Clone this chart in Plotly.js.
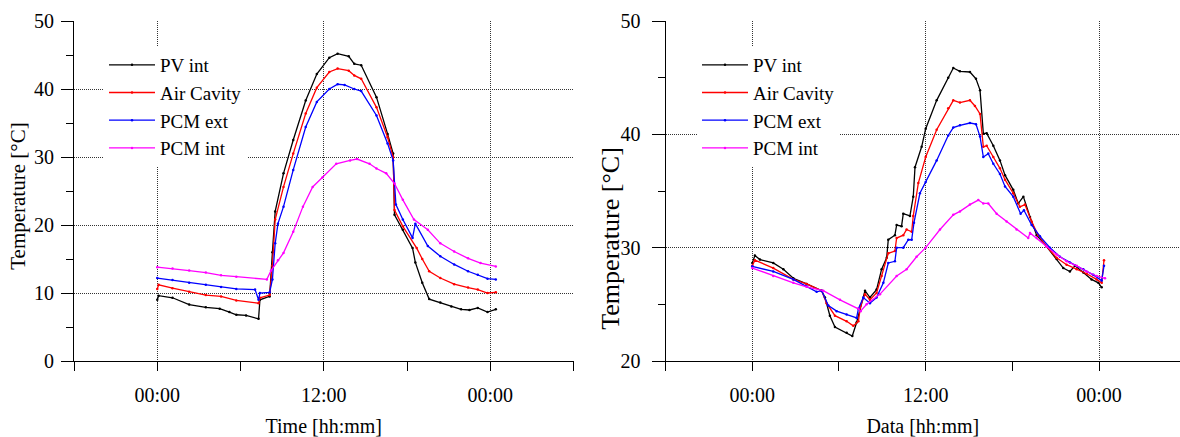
<!DOCTYPE html>
<html>
<head>
<meta charset="utf-8">
<script src="https://cdn.plot.ly/plotly-3.0.1.min.js"></script>
<style>html,body{margin:0;padding:0;background:#fff;}#chart{width:1180px;height:437px;}</style>
</head>
<body>
<div id="chart"></div>
<script>
// ---------- DATA (hours after 00:00, temperature in °C) ----------
const seriesNames = ["PV int", "Air Cavity", "PCM ext", "PCM int"];
const seriesColors = ["#000000", "#ff0000", "#0000ff", "#ff00ff"];

// Left chart (Time)
const leftPVintH  = [0,0.1,1.1,2.3,3.5,4.5,5.2,5.7,6.4,7.3,7.4,8.1,8.3,8.5,9.1,9.8,10.7,11.5,12.4,13.0,13.8,14.2,14.7,15.8,16.6,17.0,17.1,17.7,18.4,18.6,19.1,19.6,20.4,21.2,21.9,22.5,23.1,23.8,24.4];
const leftPVint   = [9.0,9.6,9.3,8.3,7.9,7.7,7.2,6.8,6.7,6.2,9.0,9.5,16.0,22.0,27.6,32.5,38.3,42.2,44.6,45.2,44.8,43.7,43.5,38.8,33.4,30.5,21.5,19.3,16.6,14.5,11.5,9.1,8.6,8.0,7.6,7.5,7.8,7.2,7.6];
const leftAirH    = [0,0.1,1.1,2.3,3.5,4.6,5.7,7.3,7.4,8.1,8.3,8.5,9.1,9.8,10.7,11.5,12.4,13.0,13.8,14.2,14.7,15.8,16.6,17.0,17.1,17.7,18.7,19.1,19.6,20.4,21.4,22.4,23.1,23.8,24.4];
const leftAir     = [10.6,11.2,10.7,10.2,9.7,9.5,8.9,8.5,9.3,9.7,14.0,20.8,25.6,30.5,36.4,40.2,42.5,43.0,42.7,42.0,41.5,37.3,32.9,30.0,22.2,19.8,16.6,15.0,13.2,12.2,11.3,10.8,10.5,10.0,10.1];
const leftPCMextH = [0,1.1,2.3,3.5,4.6,5.7,7.05,7.3,7.4,8.1,8.3,8.5,8.7,9.1,9.8,10.7,11.5,12.4,13.0,13.5,14.2,14.7,15.8,16.6,17.0,17.2,17.7,18.4,18.6,19.5,20.4,21.4,22.4,23.1,23.8,24.4];
const leftPCMext  = [12.2,11.9,11.5,11.2,10.9,10.6,10.5,9.0,10.0,10.1,12.0,17.3,20.2,22.7,28.1,34.4,38.1,40.0,40.7,40.6,40.0,39.7,36.1,32.0,29.5,23.0,20.8,18.1,20.2,16.9,15.4,14.2,13.2,12.7,12.1,12.0];
const leftPCMintH = [0,1.1,2.3,3.5,4.6,5.7,7.9,8.2,8.7,9.1,9.8,10.5,11.2,11.9,12.9,13.9,14.4,15.3,15.8,16.5,17.1,17.7,18.5,19.5,20.4,21.4,22.4,23.3,24.4];
const leftPCMint  = [13.8,13.6,13.3,13.0,12.6,12.4,12.0,13.3,14.8,15.9,19.0,22.7,25.6,27.0,29.0,29.5,29.7,29.0,28.3,27.6,26.1,23.7,20.8,19.3,17.3,16.1,15.1,14.4,13.9];

// Right chart (Data)
const rightPVintH  = [0,0.18,0.53,1.45,2.15,2.84,3.76,4.8,5.03,5.37,5.72,6.53,6.92,7.22,7.45,7.8,8.14,8.6,8.95,9.3,9.41,9.87,9.99,10.33,10.45,10.91,11.14,11.26,11.72,12.0,12.76,13.56,13.91,14.37,15.06,15.48,15.76,15.99,16.22,16.68,17.14,17.49,18.06,18.41,18.76,19.22,19.68,20.37,21.06,21.52,21.98,22.33,22.91,23.48,23.95,24.18];
const rightPVint   = [28.65,29.3,28.95,28.65,28.1,27.3,26.8,26.2,25.6,24.0,23.0,22.5,22.2,23.4,24.6,26.2,25.6,26.3,28.1,29.1,30.7,31.1,32.0,31.9,33.0,32.8,34.5,37.1,38.9,40.5,43.0,45.0,45.85,45.56,45.5,44.9,43.9,40.06,40.1,39.0,37.7,36.4,35.1,33.9,34.5,32.7,31.1,30.1,29.0,28.2,27.9,28.4,27.8,27.2,26.9,26.5];
const rightAirH    = [0,0.18,1.45,2.84,3.76,4.8,5.14,5.72,6.53,6.99,7.34,7.5,7.8,8.14,8.6,8.95,9.41,9.87,9.99,10.45,10.68,11.03,11.14,11.49,12.0,12.76,13.56,13.91,14.37,15.06,15.41,15.76,15.99,16.22,16.68,17.14,17.49,18.06,18.52,18.87,19.33,19.79,20.37,21.06,21.75,22.45,23.14,23.83,24.18,24.34];
const rightAir     = [28.4,28.9,28.2,27.2,26.8,26.2,25.1,24.0,23.5,23.1,23.5,24.9,25.9,25.4,26.0,27.5,29.5,29.7,30.85,31.1,31.6,31.4,32.8,35.7,38.0,40.4,42.3,43.0,42.8,43.0,42.5,41.8,38.9,39.0,38.0,37.0,36.0,34.8,33.6,33.8,32.3,31.1,30.1,29.1,28.5,28.1,27.7,27.2,26.9,28.9];
const rightPCMextH = [0,1.45,2.84,3.76,4.45,4.8,5.26,5.84,6.53,7.22,7.34,7.68,8.14,8.6,9.07,9.41,9.87,9.99,10.45,10.8,11.03,11.19,11.6,12.0,12.76,13.56,13.91,14.37,15.06,15.48,15.76,15.99,16.33,16.68,17.14,17.49,18.06,18.57,18.8,19.33,19.91,20.6,21.29,21.98,22.91,23.6,24.18,24.34];
const rightPCMext  = [28.35,27.9,27.2,26.6,26.1,26.2,24.9,24.4,24.1,23.8,24.6,25.6,25.1,25.6,26.9,28.65,28.8,30.0,30.0,30.7,30.7,32.2,34.8,35.8,37.7,39.9,40.6,40.8,41.0,40.9,39.8,38.0,38.3,37.4,36.5,35.4,34.5,33.0,33.3,32.0,31.0,30.0,29.2,28.7,28.1,27.6,27.1,28.4];
const rightPCMintH = [0,1.45,2.84,3.76,4.91,6.07,7.34,7.5,7.91,8.84,9.99,10.68,11.37,12.0,12.99,13.91,14.37,15.06,15.64,15.99,16.33,16.91,17.6,18.29,19.1,19.22,19.68,20.37,21.06,21.75,22.45,23.14,23.83,24.41];
const rightPCMint  = [28.2,27.5,26.9,26.55,26.2,25.4,24.6,24.4,25.0,25.9,27.5,28.1,29.2,30.0,31.6,32.9,33.2,33.8,34.2,33.9,33.9,33.0,32.3,31.6,30.85,31.3,30.85,30.1,29.4,28.8,28.4,27.9,27.5,27.3];

// ---------- BUILD ----------
const HOUR = 3600e3;
const BASE = Date.UTC(2013, 6, 1);
const toT = hs => hs.map(h => BASE + h * HOUR);
const FONT = "'Liberation Serif', 'Times New Roman', serif";

const leftSets = [[leftPVintH, leftPVint],[leftAirH, leftAir],[leftPCMextH, leftPCMext],[leftPCMintH, leftPCMint]];
const rightSets = [[rightPVintH, rightPVint],[rightAirH, rightAir],[rightPCMextH, rightPCMext],[rightPCMintH, rightPCMint]];

const traces = [];
leftSets.forEach((s, i) => traces.push({
  x: toT(s[0]), y: s[1], name: seriesNames[i], xaxis: 'x', yaxis: 'y', legend: 'legend',
  mode: 'lines+markers', line: {color: seriesColors[i], width: 1.3}, marker: {color: seriesColors[i], size: 2.5}
}));
rightSets.forEach((s, i) => traces.push({
  x: toT(s[0]), y: s[1], name: seriesNames[i], xaxis: 'x2', yaxis: 'y2', legend: 'legend2',
  mode: 'lines+markers', line: {color: seriesColors[i], width: 1.3}, marker: {color: seriesColors[i], size: 2.5}
}));

const W = 1180, H = 437, T = 21, B = 75.6;
const plotH = H - T - B;
const py = p => (H - B - p) / plotH;   // pixel y -> paper y
const px = p => p / W;

const gridStyle = {showgrid: true, gridcolor: '#333', griddash: '1px,1px', gridwidth: 1};
function xMain(domain, rangeH, anchor) {
  return Object.assign({
    type: 'date', domain: domain, anchor: anchor, range: [BASE + rangeH[0]*HOUR, BASE + rangeH[1]*HOUR],
    tickmode: 'linear', tick0: BASE, dtick: 12*HOUR, tickformat: '%H:%M',
    ticks: 'outside', ticklen: 9, tickcolor: '#000', tickwidth: 1, ticklabelstandoff: 7,
    minor: {tick0: BASE, dtick: 6*HOUR, ticks: 'outside', ticklen: 9, tickcolor: '#000', showgrid: false},
    showline: true, linecolor: '#000', linewidth: 1, zeroline: false, automargin: false,
    tickfont: {family: FONT, size: 20, color: '#000'}, fixedrange: true
  }, gridStyle);
}
function xTop(over, anchor, rangeH) {
  return {type: 'date', overlaying: over, anchor: anchor, side: 'top',
    range: [BASE + rangeH[0]*HOUR, BASE + rangeH[1]*HOUR], tickmode: 'linear', tick0: BASE, dtick: 6*HOUR,
    ticks: 'inside', ticklen: 7, tickcolor: '#000', showticklabels: false, showgrid: false, zeroline: false,
    showline: true, linecolor: '#000', linewidth: 1, automargin: false};
}
function yMain(range, anchor, lenMajor, standoff) {
  return Object.assign({
    range: range, anchor: anchor, domain: [0, 1], tickmode: 'linear', tick0: 0, dtick: 10,
    ticks: 'outside', ticklen: lenMajor, tickcolor: '#000', tickwidth: 1,
    minor: {dtick: 5, ticks: 'outside', ticklen: 7, tickcolor: '#000', showgrid: false},
    showline: true, linecolor: '#000', linewidth: 1, zeroline: false, automargin: false,
    ticklabelstandoff: standoff,
    tickfont: {family: FONT, size: 20, color: '#000'}, fixedrange: true
  }, gridStyle);
}
function yRight(over, anchor, range) {
  return {overlaying: over, anchor: anchor, side: 'right', range: range, tickmode: 'linear', tick0: 0, dtick: 5,
    ticks: 'inside', ticklen: 7, tickcolor: '#000', showticklabels: false, showgrid: false, zeroline: false,
    showline: true, linecolor: '#000', linewidth: 1, automargin: false};
}

const leftRange = [-6, 30];
const rightRange = [-6, 29.6];
const xa = xMain([px(74), px(573.5)], leftRange, 'y');
xa.title = {text: 'Time [hh:mm]', font: {family: FONT, size: 20, color: '#000'}, standoff: 16};
const xb = xMain([px(665.6), 1], rightRange, 'y2');
xb.title = {text: 'Data [hh:mm]', font: {family: FONT, size: 20, color: '#000'}, standoff: 16};

const legendCommon = {
  bgcolor: '#ffffff', borderwidth: 0, font: {family: FONT, size: 19, color: '#000'},
  xanchor: 'left', yanchor: 'top', tracegroupgap: 0, itemwidth: 46
};

const layout = {
  width: W, height: H, margin: {l: 0, r: 0, t: T, b: B, pad: 0},
  paper_bgcolor: '#fff', plot_bgcolor: '#fff', showlegend: true,
  font: {family: FONT, color: '#000'},
  xaxis: xa, yaxis: yMain([0, 50], 'x', 12, 3),
  xaxis2: xb, yaxis2: yMain([20, 50], 'x2', 13, 7),
  xaxis3: xTop('x', 'y', leftRange), yaxis3: yRight('y', 'x', [0, 50]),
  xaxis4: xTop('x2', 'y2', rightRange), yaxis4: yRight('y2', 'x2', [20, 50]),
  legend: Object.assign({x: px(104), y: py(46)}, legendCommon),
  legend2: Object.assign({x: px(697), y: py(46)}, legendCommon),
  annotations: [
    {text: 'Temperature [°C]', xref: 'paper', yref: 'paper', x: px(18), y: py(197), textangle: -90,
     showarrow: false, xanchor: 'center', yanchor: 'middle', font: {family: FONT, size: 21, color: '#000'}},
    {text: 'Temperature [°C]', xref: 'paper', yref: 'paper', x: px(611), y: py(239), textangle: -90,
     showarrow: false, xanchor: 'center', yanchor: 'middle', font: {family: FONT, size: 26, color: '#000'}}
  ]
};

Plotly.newPlot('chart', traces, layout, {staticPlot: true, displayModeBar: false});
</script>
</body>
</html>
